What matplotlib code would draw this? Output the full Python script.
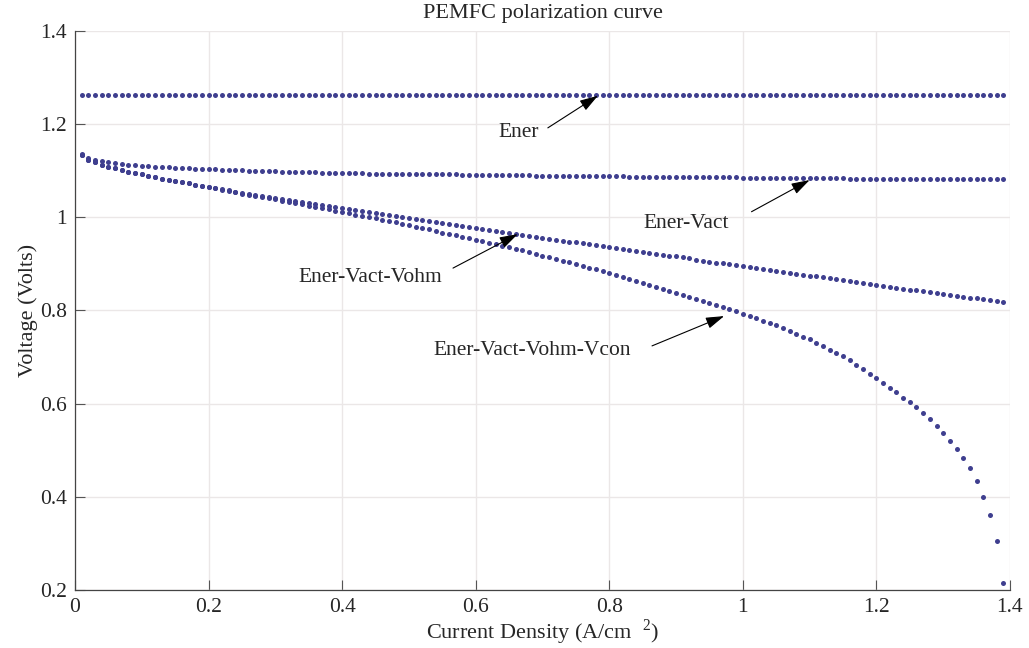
import numpy as np
import matplotlib
matplotlib.use("Agg")
import matplotlib.pyplot as plt

plt.rcParams['font.family'] = ['Liberation Serif', 'DejaVu Serif']
plt.rcParams['mathtext.fontset'] = 'custom'
plt.rcParams['mathtext.rm'] = 'Liberation Serif'

# Densidad de corriente (A/cm2), un punto cada 0.01
current_density = np.round(np.linspace(0.01, 1.39, 139), 2)

# Tensión reversible (constante)
ener = [1.263] * len(current_density)

# Ener - Vact
ener_vact = [
    1.136, 1.128, 1.124, 1.121, 1.118, 1.116, 1.115, 1.113, 1.112, 1.111,
    1.110, 1.109, 1.108, 1.107, 1.106, 1.106, 1.105, 1.104, 1.104, 1.103,
    1.103, 1.102, 1.102, 1.101, 1.101, 1.100, 1.100, 1.099, 1.099, 1.099,
    1.098, 1.098, 1.098, 1.097, 1.097, 1.097, 1.096, 1.096, 1.096, 1.095,
    1.095, 1.095, 1.095, 1.094, 1.094, 1.094, 1.094, 1.093, 1.093, 1.093,
    1.093, 1.093, 1.092, 1.092, 1.092, 1.092, 1.092, 1.091, 1.091, 1.091,
    1.091, 1.091, 1.090, 1.090, 1.090, 1.090, 1.090, 1.090, 1.089, 1.089,
    1.089, 1.089, 1.089, 1.089, 1.089, 1.088, 1.088, 1.088, 1.088, 1.088,
    1.088, 1.088, 1.087, 1.087, 1.087, 1.087, 1.087, 1.087, 1.087, 1.087,
    1.086, 1.086, 1.086, 1.086, 1.086, 1.086, 1.086, 1.086, 1.086, 1.085,
    1.085, 1.085, 1.085, 1.085, 1.085, 1.085, 1.084, 1.084, 1.084, 1.084,
    1.084, 1.084, 1.084, 1.084, 1.084, 1.083, 1.083, 1.083, 1.083, 1.083,
    1.083, 1.083, 1.083, 1.083, 1.083, 1.083, 1.083, 1.083, 1.082, 1.082,
    1.082, 1.082, 1.082, 1.082, 1.082, 1.082, 1.082, 1.082, 1.082,
]

# Ener - Vact - Vohm
ener_vact_vohm = [
    1.134, 1.124, 1.118, 1.113, 1.109, 1.105, 1.102, 1.098, 1.095, 1.092,
    1.089, 1.086, 1.083, 1.080, 1.078, 1.075, 1.073, 1.070, 1.068, 1.065,
    1.063, 1.060, 1.058, 1.055, 1.053, 1.051, 1.048, 1.046, 1.044, 1.042,
    1.039, 1.037, 1.035, 1.033, 1.030, 1.028, 1.026, 1.024, 1.022, 1.019,
    1.017, 1.015, 1.013, 1.011, 1.009, 1.007, 1.004, 1.002, 1.000, 0.998,
    0.996, 0.994, 0.992, 0.990, 0.987, 0.985, 0.983, 0.981, 0.979, 0.977,
    0.975, 0.973, 0.971, 0.969, 0.967, 0.965, 0.962, 0.960, 0.958, 0.956,
    0.954, 0.952, 0.950, 0.948, 0.946, 0.944, 0.942, 0.940, 0.938, 0.936,
    0.934, 0.932, 0.930, 0.928, 0.926, 0.924, 0.922, 0.920, 0.918, 0.916,
    0.914, 0.912, 0.909, 0.907, 0.905, 0.903, 0.901, 0.899, 0.897, 0.895,
    0.893, 0.891, 0.889, 0.887, 0.885, 0.883, 0.881, 0.879, 0.877, 0.875,
    0.873, 0.871, 0.869, 0.867, 0.865, 0.863, 0.861, 0.859, 0.857, 0.855,
    0.853, 0.851, 0.849, 0.847, 0.845, 0.843, 0.841, 0.839, 0.837, 0.835,
    0.833, 0.831, 0.829, 0.827, 0.826, 0.824, 0.822, 0.820, 0.818,
]

# Ener - Vact - Vohm - Vcon
ener_vact_vohm_vcon = [
    1.134, 1.124, 1.118, 1.113, 1.109, 1.105, 1.102, 1.098, 1.095, 1.092,
    1.089, 1.086, 1.083, 1.080, 1.078, 1.075, 1.073, 1.070, 1.068, 1.065,
    1.062, 1.059, 1.057, 1.054, 1.051, 1.048, 1.046, 1.044, 1.041, 1.039,
    1.036, 1.033, 1.031, 1.028, 1.025, 1.023, 1.020, 1.017, 1.014, 1.011,
    1.009, 1.006, 1.003, 1.000, 0.998, 0.995, 0.992, 0.989, 0.986, 0.983,
    0.980, 0.977, 0.974, 0.971, 0.967, 0.964, 0.961, 0.958, 0.955, 0.952,
    0.949, 0.945, 0.942, 0.939, 0.936, 0.932, 0.929, 0.925, 0.922, 0.918,
    0.915, 0.911, 0.907, 0.904, 0.900, 0.896, 0.892, 0.888, 0.884, 0.880,
    0.876, 0.871, 0.867, 0.863, 0.859, 0.854, 0.850, 0.846, 0.842, 0.838,
    0.833, 0.829, 0.825, 0.821, 0.816, 0.812, 0.807, 0.803, 0.798, 0.793,
    0.788, 0.783, 0.778, 0.773, 0.768, 0.762, 0.756, 0.750, 0.744, 0.738,
    0.731, 0.723, 0.716, 0.709, 0.702, 0.693, 0.683, 0.674, 0.664, 0.655,
    0.645, 0.634, 0.624, 0.613, 0.603, 0.592, 0.579, 0.567, 0.552, 0.537,
    0.520, 0.502, 0.483, 0.462, 0.433, 0.400, 0.361, 0.306, 0.216,
]

# Ticks
x_ticks = [0, 0.2, 0.4, 0.6, 0.8, 1.0, 1.2, 1.4]
x_tick_labels = ['0', '0.2', '0.4', '0.6', '0.8', '1', '1.2', '1.4']
y_ticks = [0.2, 0.4, 0.6, 0.8, 1.0, 1.2, 1.4]
y_tick_labels = ['0.2', '0.4', '0.6', '0.8', '1', '1.2', '1.4']

# Etiquetas con flechas: (texto, posición del texto, cola, punta)
labels = ['Ener', 'Ener-Vact', 'Ener-Vact-Vohm', 'Ener-Vact-Vohm-Vcon']
label_pos = [(0.665, 1.181), (0.915, 0.986), (0.442, 0.870), (0.684, 0.715)]
arrow_tail = [(0.708, 1.192), (1.013, 1.012), (0.566, 0.891), (0.864, 0.724)]
arrow_tip = [(0.783, 1.261), (1.100, 1.080), (0.663, 0.964), (0.972, 0.788)]

dot_color = '#3f3f8f'
text_color = '#262626'

fig = plt.figure(figsize=(10.29, 6.48), dpi=100)
ax = fig.add_axes([0.0729, 0.0895, 0.9086, 0.8627])

for serie in [ener, ener_vact, ener_vact_vohm, ener_vact_vohm_vcon]:
    ax.plot(current_density, serie, linestyle='none', marker='o',
            markersize=3.6, color=dot_color, markeredgewidth=0, zorder=3)

for txt, pos, tail, tip in zip(labels, label_pos, arrow_tail, arrow_tip):
    ax.text(pos[0], pos[1], txt, ha='center', va='center', fontsize=15.5,
            color=text_color)
    ax.annotate('', xy=tip, xytext=tail,
                arrowprops=dict(arrowstyle='-|>,head_length=0.7,head_width=0.22',
                                color='black', lw=0.8,
                                mutation_scale=16, shrinkA=0, shrinkB=0))

ax.set_xlim(0, 1.4)
ax.set_ylim(0.2, 1.4)
ax.set_xticks(x_ticks)
ax.set_xticklabels(x_tick_labels)
ax.set_yticks(y_ticks)
ax.set_yticklabels(y_tick_labels)
ax.tick_params(direction='in', length=7, width=0.8, color='#555555',
               labelsize=15.5, labelcolor=text_color, pad=6)
ax.tick_params(top=False, right=False)

ax.grid(True, color='#ebe7e7', linewidth=1.0, zorder=0)
ax.set_axisbelow(True)
for side in ['top', 'right']:
    ax.spines[side].set_visible(False)
for side in ['left', 'bottom']:
    ax.spines[side].set_color('#444444')
    ax.spines[side].set_linewidth(0.9)

ax.set_title('PEMFC polarization curve', fontsize=16, color=text_color, pad=9)
ax.set_xlabel('Current Density (A/cm  $^{2}$)', fontsize=16, color=text_color,
              labelpad=0)
ax.set_ylabel('Voltage (Volts)', fontsize=16, color=text_color, labelpad=1)

fig.savefig('out.png', dpi=100)
